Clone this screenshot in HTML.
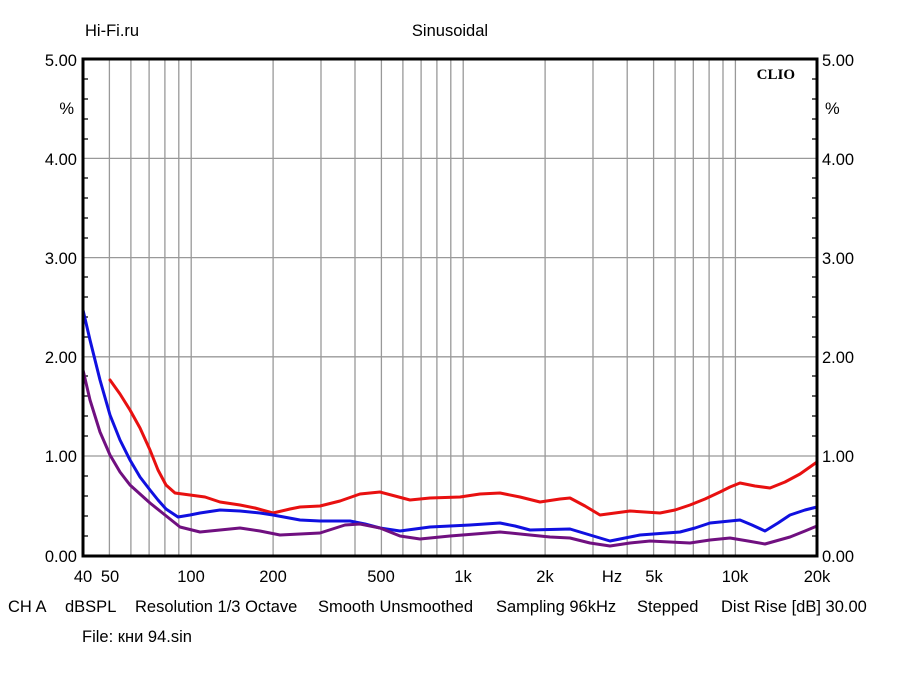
<!DOCTYPE html>
<html><head><meta charset="utf-8"><style>
html,body{margin:0;padding:0;background:#fff;}
svg text{font-family:"Liberation Sans",Arial,sans-serif;font-size:16.5px;fill:#000;}
</style></head><body>
<svg width="900" height="675" viewBox="0 0 900 675" xmlns="http://www.w3.org/2000/svg">
<rect width="900" height="675" fill="#fff"/>
<g stroke="#999" stroke-width="1.3">
<line x1="109.4" y1="59" x2="109.4" y2="556"/><line x1="130.9" y1="59" x2="130.9" y2="556"/>
<line x1="149.1" y1="59" x2="149.1" y2="556"/><line x1="164.9" y1="59" x2="164.9" y2="556"/>
<line x1="178.8" y1="59" x2="178.8" y2="556"/><line x1="191.2" y1="59" x2="191.2" y2="556"/>
<line x1="273.1" y1="59" x2="273.1" y2="556"/><line x1="321" y1="59" x2="321" y2="556"/>
<line x1="355" y1="59" x2="355" y2="556"/><line x1="381.4" y1="59" x2="381.4" y2="556"/>
<line x1="402.9" y1="59" x2="402.9" y2="556"/><line x1="421.1" y1="59" x2="421.1" y2="556"/>
<line x1="436.9" y1="59" x2="436.9" y2="556"/><line x1="450.8" y1="59" x2="450.8" y2="556"/>
<line x1="463.2" y1="59" x2="463.2" y2="556"/><line x1="545.1" y1="59" x2="545.1" y2="556"/>
<line x1="593" y1="59" x2="593" y2="556"/><line x1="627.2" y1="59" x2="627.2" y2="556"/>
<line x1="653.6" y1="59" x2="653.6" y2="556"/><line x1="675.1" y1="59" x2="675.1" y2="556"/>
<line x1="693.3" y1="59" x2="693.3" y2="556"/><line x1="709.1" y1="59" x2="709.1" y2="556"/>
<line x1="723" y1="59" x2="723" y2="556"/><line x1="735.4" y1="59" x2="735.4" y2="556"/>
<line x1="83" y1="158.4" x2="817" y2="158.4"/><line x1="83" y1="257.6" x2="817" y2="257.6"/>
<line x1="83" y1="356.8" x2="817" y2="356.8"/><line x1="83" y1="456" x2="817" y2="456"/>
</g>
<g stroke="#000" stroke-width="1.3">
<path d="M83 79h5M83 99h5M83 119h5M83 139h5M83 178h5M83 198h5M83 218h5M83 238h5M83 277h5M83 297h5M83 317h5M83 337h5M83 376h5M83 396h5M83 416h5M83 436h5M83 476h5M83 496h5M83 516h5M83 536h5"/>
<path d="M817 79h-5M817 99h-5M817 119h-5M817 139h-5M817 178h-5M817 198h-5M817 218h-5M817 238h-5M817 277h-5M817 297h-5M817 317h-5M817 337h-5M817 376h-5M817 396h-5M817 416h-5M817 436h-5M817 476h-5M817 496h-5M817 516h-5M817 536h-5"/>
</g>
<g fill="none" stroke-width="3" stroke-linejoin="round" stroke-linecap="round">
<polyline stroke="#e81010" points="110,380 120,394 130,410 140,428 150,450 158,470 166,485 175,493 190,495 205,497 220,502 240,505 255,508 273,513 290,509 300,507 320,506 340,501 360,494 380,492 395,496 410,500 430,498 460,497 480,494 500,493 520,497 540,502 560,499 570,498 585,506 600,515 615,513 630,511 660,513 675,510 690,505 705,499 720,492 730,487 740,483 755,486 770,488 785,482 800,474 817,462"/>
<polyline stroke="#1010e0" points="83,310 90,340 100,380 110,415 120,440 130,460 140,477 150,490 158,500 166,509 178,517 190,515 200,513 220,510 240,511 260,513 273,515 300,520 320,521 350,521 365,524 380,528 400,531 430,527 470,525 500,523 515,526 530,530 570,529 590,535 610,541 625,538 640,535 680,532 695,528 710,523 740,520 752,525 765,531 778,523 790,515 805,510 817,507"/>
<polyline stroke="#701080" points="83,370 90,400 100,432 110,455 120,472 130,485 140,494 150,503 165,515 180,527 200,532 220,530 240,528 260,531 280,535 300,534 320,533 345,525 360,524 380,528 400,536 420,539 450,536 500,532 530,535 550,537 570,538 590,543 610,546 630,543 650,541 690,543 710,540 730,538 748,541 765,544 790,537 805,531 817,526"/>
</g>
<rect x="83" y="59" width="734" height="497" fill="none" stroke="#000" stroke-width="3"/>
<text x="85" y="36">Hi-Fi.ru</text>
<text x="450" y="36" text-anchor="middle">Sinusoidal</text>
<text x="795" y="79" text-anchor="end" style="font-family:'Liberation Serif',serif;font-weight:bold;font-size:15px">CLIO</text>
<g text-anchor="end">
<text x="77" y="66">5.00</text><text x="74" y="114">%</text><text x="77" y="165">4.00</text>
<text x="77" y="264">3.00</text><text x="77" y="363">2.00</text><text x="77" y="462">1.00</text><text x="77" y="562">0.00</text>
</g>
<g>
<text x="822" y="66">5.00</text><text x="825" y="114">%</text><text x="822" y="165">4.00</text>
<text x="822" y="264">3.00</text><text x="822" y="363">2.00</text><text x="822" y="462">1.00</text><text x="822" y="562">0.00</text>
</g>
<g text-anchor="middle">
<text x="83" y="582">40</text><text x="110" y="582">50</text><text x="191" y="582">100</text>
<text x="273" y="582">200</text><text x="381" y="582">500</text><text x="463" y="582">1k</text>
<text x="545" y="582">2k</text><text x="612" y="582">Hz</text><text x="654" y="582">5k</text>
<text x="735" y="582">10k</text><text x="817" y="582">20k</text>
</g>
<text x="8" y="612">CH A</text>
<text x="65" y="612">dBSPL</text>
<text x="135" y="612">Resolution 1/3 Octave</text>
<text x="318" y="612">Smooth Unsmoothed</text>
<text x="496" y="612">Sampling 96kHz</text>
<text x="637" y="612">Stepped</text>
<text x="721" y="612">Dist Rise [dB] 30.00</text>
<text x="82" y="642" style="font-family:'Liberation Sans','DejaVu Sans',sans-serif">File: кни 94.sin</text>
</svg>
</body></html>
